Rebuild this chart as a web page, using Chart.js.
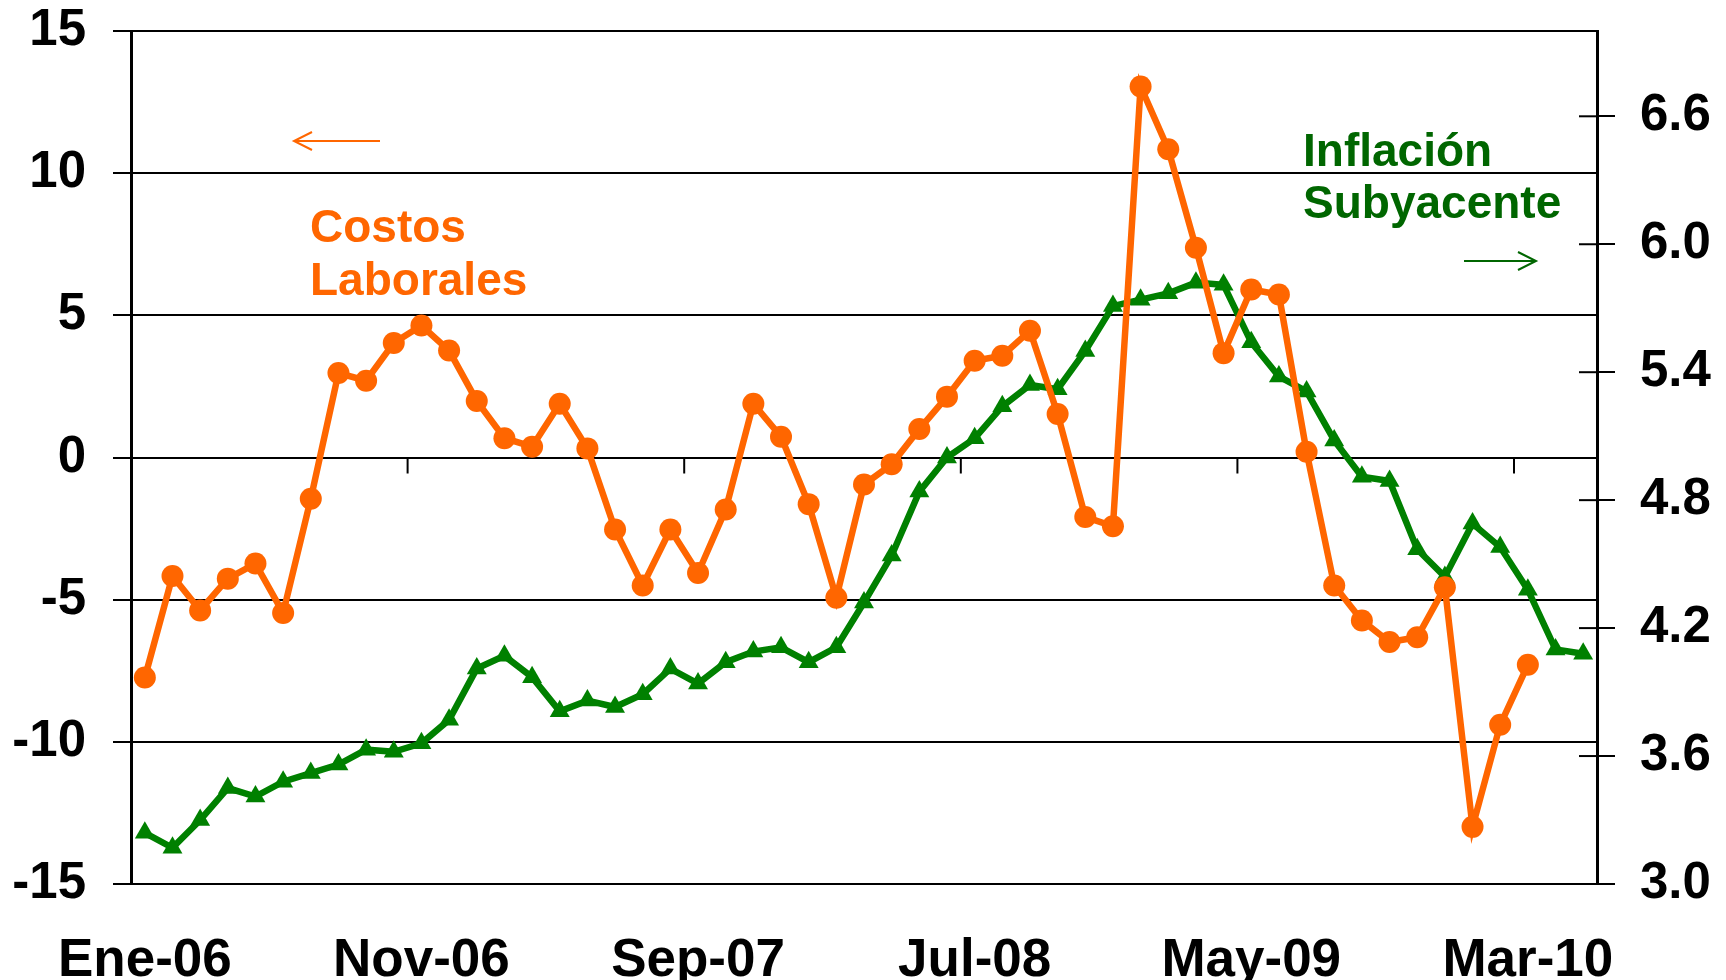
<!DOCTYPE html>
<html>
<head>
<meta charset="utf-8">
<script src="https://cdn.jsdelivr.net/npm/chart.js@4/dist/chart.umd.min.js"></script>
<style>
html,body{margin:0;padding:0;background:#fff;}
#wrap{width:1726px;height:980px;}
</style>
</head>
<body>
<div id="wrap"><canvas id="c" width="1726" height="980"></canvas></div>
<script>
const categories = [
 'Ene-06','Feb-06','Mar-06','Abr-06','May-06','Jun-06','Jul-06','Ago-06','Sep-06','Oct-06','Nov-06','Dic-06',
 'Ene-07','Feb-07','Mar-07','Abr-07','May-07','Jun-07','Jul-07','Ago-07','Sep-07','Oct-07','Nov-07','Dic-07',
 'Ene-08','Feb-08','Mar-08','Abr-08','May-08','Jun-08','Jul-08','Ago-08','Sep-08','Oct-08','Nov-08','Dic-08',
 'Ene-09','Feb-09','Mar-09','Abr-09','May-09','Jun-09','Jul-09','Ago-09','Sep-09','Oct-09','Nov-09','Dic-09',
 'Ene-10','Feb-10','Mar-10','Abr-10','May-10'
];
const shownXLabels = ['Ene-06','Nov-06','Sep-07','Jul-08','May-09','Mar-10'];

const costosLaborales = [
 -7.74, -4.17, -5.38, -4.26, -3.73, -5.47, -1.45, 2.97, 2.70, 4.03,
 4.64, 3.76, 1.99, 0.68, 0.38, 1.89, 0.32, -2.53, -4.50, -2.53,
 -4.06, -1.83, 1.89, 0.73, -1.64, -4.93, -0.95, -0.24, 1.00, 2.14,
 3.40, 3.58, 4.46, 1.53, -2.09, -2.42, 13.05, 10.84, 7.38, 3.67,
 5.91, 5.73, 0.20, -4.50, -5.73, -6.49, -6.32, -4.56, -12.99, -9.40,
 -7.29
];
const inflacionSubyacente = [
 3.24, 3.17, 3.30, 3.45, 3.41, 3.48, 3.52, 3.56, 3.63, 3.62,
 3.66, 3.77, 4.01, 4.07, 3.97, 3.81, 3.86, 3.83, 3.89, 4.01,
 3.94, 4.04, 4.09, 4.11, 4.04, 4.11, 4.32, 4.54, 4.84, 5.00,
 5.09, 5.24, 5.34, 5.32, 5.50, 5.71, 5.74, 5.77, 5.82, 5.81,
 5.54, 5.38, 5.31, 5.08, 4.91, 4.89, 4.57, 4.44, 4.69, 4.58,
 4.38, 4.10, 4.08
];
const leftTicks = [-15, -10, -5, 0, 5, 10, 15];
const rightTicks = [3.0, 3.6, 4.2, 4.8, 5.4, 6.0, 6.6];

const ORANGE = '#FF6600';
const GREEN = '#008000';
const GREEN_TEXT = '#006600';
const FONT = "'Liberation Sans', Arial, sans-serif";

function arrow(ctx, x1, y, x2, color) {
  const dir = Math.sign(x2 - x1);
  ctx.save();
  ctx.strokeStyle = color; ctx.lineWidth = 2;
  ctx.beginPath(); ctx.moveTo(x1, y); ctx.lineTo(x2, y); ctx.stroke();
  ctx.beginPath();
  ctx.moveTo(x2 - dir * 18, y - 9); ctx.lineTo(x2, y); ctx.lineTo(x2 - dir * 18, y + 9);
  ctx.stroke();
  ctx.restore();
}

const extras = {
  id: 'extras',
  beforeDatasetsDraw(chart) {
    const {ctx, scales: {x, y, y1}} = chart;
    ctx.save();
    ctx.strokeStyle = '#000'; ctx.lineWidth = 2;
    const y0 = y.getPixelForValue(0);
    categories.forEach((c, i) => {
      if (i > 0 && shownXLabels.includes(c)) {
        const px = (x.getPixelForValue(i) + x.getPixelForValue(i - 1)) / 2;
        ctx.beginPath(); ctx.moveTo(px, y0); ctx.lineTo(px, y0 + 16); ctx.stroke();
      }
    });
    rightTicks.forEach(v => {
      const py = y1.getPixelForValue(v);
      ctx.beginPath(); ctx.moveTo(y1.left - 18, py); ctx.lineTo(y1.left, py); ctx.stroke();
    });
    ctx.restore();
  },
  afterDraw(chart) {
    const {ctx} = chart;
    ctx.save();
    ctx.font = 'bold 46px ' + FONT;
    ctx.textBaseline = 'alphabetic';
    ctx.textAlign = 'left';
    ctx.fillStyle = ORANGE;
    ctx.fillText('Costos', 310, 242);
    ctx.fillText('Laborales', 310, 295);
    ctx.fillStyle = GREEN_TEXT;
    ctx.fillText('Inflación', 1303, 166);
    ctx.fillText('Subyacente', 1303, 218);
    ctx.restore();
    arrow(ctx, 380, 141, 294, ORANGE);
    arrow(ctx, 1464, 261, 1536, GREEN_TEXT);
  }
};

new Chart(document.getElementById('c'), {
  type: 'line',
  data: {
    labels: categories,
    datasets: [
      {
        label: 'Costos Laborales',
        data: costosLaborales,
        yAxisID: 'y',
        borderColor: ORANGE,
        backgroundColor: ORANGE,
        borderWidth: 6.5,
        pointStyle: 'circle',
        pointRadius: 11,
        pointBorderWidth: 0,
        tension: 0
      },
      {
        label: 'Inflación Subyacente',
        data: inflacionSubyacente,
        yAxisID: 'y1',
        borderColor: GREEN,
        backgroundColor: GREEN,
        borderWidth: 6.5,
        pointStyle: 'triangle',
        pointRadius: 11.5,
        pointBorderWidth: 0,
        tension: 0
      }
    ]
  },
  options: {
    responsive: false,
    animation: false,
    devicePixelRatio: 1,
    layout: {padding: {top: 31, left: 0, right: 0, bottom: 0}},
    plugins: {legend: {display: false}, tooltip: {enabled: false}},
    scales: {
      x: {
        offset: true,
        grid: {display: false},
        border: {display: false},
        ticks: {
          autoSkip: false, maxRotation: 0, minRotation: 0,
          color: '#000', padding: 38,
          font: {family: FONT, size: 53, weight: 'bold'},
          callback: function(v, i) { const l = categories[i]; return shownXLabels.includes(l) ? l : ''; }
        },
        afterFit(s) { s.height = 96; s.paddingLeft = 0; s.paddingRight = 0; }
      },
      y: {
        position: 'left',
        min: -15, max: 15,
        afterBuildTicks(a) { a.ticks = leftTicks.map(v => ({value: v})); },
        ticks: {color: '#000', padding: 27, font: {family: FONT, size: 51, weight: 'bold', lineHeight: 1.1}},
        grid: {color: '#000', lineWidth: 2, tickLength: 18},
        border: {color: '#000', width: 3},
        afterFit(s) { s.width = 131; s.paddingTop = 0; s.paddingBottom = 0; }
      },
      y1: {
        position: 'right',
        min: 3, max: 7,
        afterBuildTicks(a) { a.ticks = rightTicks.map(v => ({value: v})); },
        ticks: {color: '#000', padding: 25, font: {family: FONT, size: 51, weight: 'bold', lineHeight: 1.1},
          callback: v => Number(v).toFixed(1)},
        grid: {drawOnChartArea: false, color: '#000', lineWidth: 2, tickLength: 18},
        border: {color: '#000', width: 3},
        afterFit(s) { s.width = 129; s.paddingTop = 0; s.paddingBottom = 0; }
      }
    }
  },
  plugins: [extras]
});
</script>
</body>
</html>
